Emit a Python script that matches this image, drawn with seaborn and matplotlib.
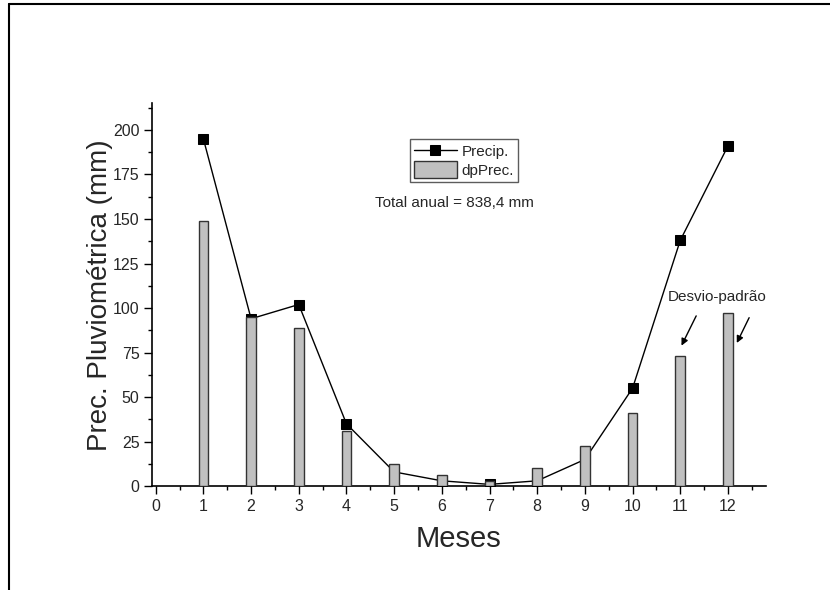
import matplotlib
matplotlib.use("Agg")
import matplotlib.pyplot as plt
import seaborn as sns
import pandas as pd
from matplotlib.lines import Line2D
from matplotlib.ticker import MultipleLocator
from matplotlib import font_manager

months = [1, 2, 3, 4, 5, 6, 7, 8, 9, 10, 11, 12]
precip = [195, 94, 102, 35, 8, 3, 1, 3, 15, 55, 138, 191]
dp_prec = [149, 95, 89, 31, 12.5, 6.5, 3, 10, 22.5, 41, 73, 97]
x_ticks = list(range(0, 13))
y_ticks = [0, 25, 50, 75, 100, 125, 150, 175, 200]

sns.set_theme(style="white")
names = {f.name for f in font_manager.fontManager.ttflist}
fam = "Liberation Sans Narrow" if "Liberation Sans Narrow" in names else "Liberation Sans"
plt.rcParams["font.family"] = [fam, "DejaVu Sans"]

df = pd.DataFrame({"Mes": months, "Precip": precip, "dpPrec": dp_prec})

fig = plt.figure(figsize=(8.3, 5.9), dpi=100)
ax = fig.add_axes([0.183, 0.176, 0.740, 0.649])

sns.lineplot(data=df, x="Mes", y="Precip", ax=ax, color="black", lw=1,
             marker="s", markersize=7, markeredgecolor="black", zorder=2,
             label="Precip.")
sns.barplot(data=df, x="Mes", y="dpPrec", ax=ax, native_scale=True, width=0.2,
            color="#c0c0c0", saturation=1, edgecolor="#333333", linewidth=1,
            zorder=3, label="dpPrec.")

ax.set_xlim(-0.08, 12.8)
ax.set_ylim(0, 215)
ax.set_xticks(x_ticks)
ax.set_xticklabels([str(t) for t in x_ticks])
ax.set_yticks(y_ticks)
ax.set_yticklabels([str(t) for t in y_ticks])
ax.xaxis.set_minor_locator(MultipleLocator(0.5))
ax.yaxis.set_minor_locator(MultipleLocator(12.5))
ax.tick_params(axis="both", which="major", direction="out", length=6, width=1,
               color="black", labelsize=11.5, bottom=True, left=True, pad=3)
ax.tick_params(axis="both", which="minor", direction="out", length=3, width=1,
               color="black", bottom=True, left=True)
for s in ["top", "right"]:
    ax.spines[s].set_visible(False)
for s in ["left", "bottom"]:
    ax.spines[s].set_color("black")
    ax.spines[s].set_linewidth(1.2)

ax.set_xlabel("Meses", fontsize=21, labelpad=8)
ax.set_ylabel("Prec. Pluviométrica (mm)", fontsize=20, labelpad=0)

handles, labels = ax.get_legend_handles_labels()
leg = ax.legend(handles, labels, loc="center", bbox_to_anchor=(0.508, 0.851),
                fontsize=11, frameon=True, fancybox=False, edgecolor="#333333",
                borderpad=0.25, handlelength=2.8, handleheight=1.3,
                handletextpad=0.3, labelspacing=0.1)
leg.get_frame().set_linewidth(1)

ax.text(6.27, 159, "Total anual = 838,4 mm", fontsize=11, ha="center", va="center")

ax.text(11.78, 106, "Desvio-padrão", fontsize=11, ha="center", va="center")
ax.annotate("", xy=(11.0, 77.5), xytext=(11.36, 97),
            arrowprops=dict(arrowstyle="-|>", color="black", lw=1, mutation_scale=10))
ax.annotate("", xy=(12.16, 79), xytext=(12.47, 96),
            arrowprops=dict(arrowstyle="-|>", color="black", lw=1, mutation_scale=10))

fig.add_artist(Line2D([9/830, 9/830], [0, 1 - 4/590], transform=fig.transFigure,
                      color="black", lw=1.5))
fig.add_artist(Line2D([9/830, 1], [1 - 4/590, 1 - 4/590], transform=fig.transFigure,
                      color="black", lw=1.5))

fig.savefig("out.png", dpi=100, facecolor="white")
